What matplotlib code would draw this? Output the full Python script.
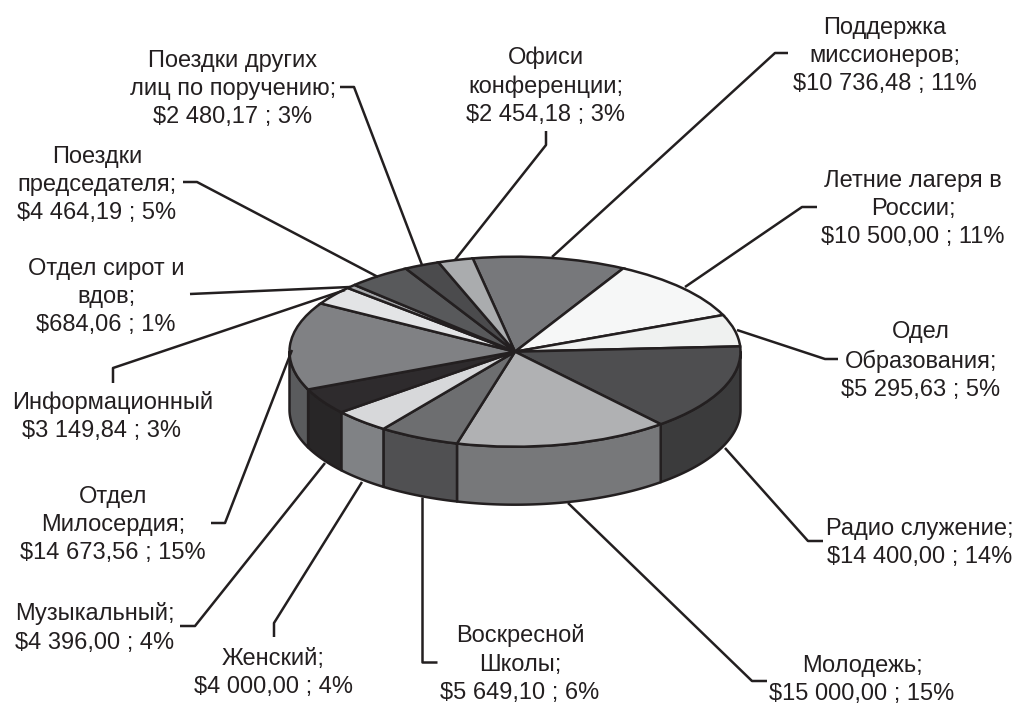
import matplotlib
matplotlib.use('Agg')
import matplotlib.pyplot as plt
import numpy as np

plt.rcParams['font.family'] = ['Liberation Sans', 'DejaVu Sans']

# slices clockwise, starting from the top
values = [10736.48, 10500.00, 5295.63, 14400.00, 15000.00, 5649.10, 4000.00,
          4396.00, 14673.56, 3149.84, 684.06, 4464.19, 2480.17, 2454.18]
top_colors = ['#77787b', '#f6f7f7', '#eff1f0', '#4e4e50', '#b0b1b3', '#6d6e70', '#d7d8da',
              '#2e2b2d', '#808184', '#e3e4e6', '#a7a9ac', '#58595b', '#4b4b4d', '#aaacae']
side_colors = ['#77787b', '#f6f7f7', '#eff1f0', '#3b3b3c', '#77787a', '#505052', '#808285',
               '#282627', '#5a5b5d', '#e3e4e6', '#a7a9ac', '#58595b', '#4b4b4d', '#aaacae']
labels = ['Поддержка\nмиссионеров;\n$10 736,48 ; 11%',
          'Летние лагеря в\nРоссии;\n$10 500,00 ; 11%',
          'Одел\nОбразования;\n$5 295,63 ; 5%',
          'Радио служение;\n$14 400,00 ; 14%',
          'Молодежь;\n$15 000,00 ; 15%',
          'Воскресной\nШколы;\n$5 649,10 ; 6%',
          'Женский;\n$4 000,00 ; 4%',
          'Музыкальный;\n$4 396,00 ; 4%',
          'Отдел\nМилосердия;\n$14 673,56 ; 15%',
          'Информационный',
          'Отдел сирот и\nвдов;\n$684,06 ; 1%',
          'Поездки\nпредседателя;\n$4 464,19 ; 5%',
          'Поездки других\nлиц по поручению;\n$2 480,17 ; 3%',
          'Офиси\nконференции;\n$2 454,18 ; 3%']

# layout in pixels of the picture
W, H = 1017, 705
cx, cy, rx, ry, depth = 515, 351.7, 225.5, 95, 58
start = -10.8
label_pos = [(885, 56), (913, 209), (921, 361), (920, 543), (862, 680), (520, 664), (273, 673),
             (95, 628), (113, 525), (113, 403), (106, 297), (97, 185), (233, 89), (546, 86)]
leaders = [[(788, 53), (775, 53), (552, 257)],
           [(817, 207), (802, 207), (685, 287)],
           [(737, 330), (825, 359), (838, 359)],
           [(725, 448), (808, 541), (823, 541)],
           [(568, 503), (752, 681), (767, 681)],
           [(422, 497), (422, 662), (437, 662)],
           [(362, 482), (274, 623), (274, 637)],
           [(325, 463), (195, 626), (180, 626)],
           [(292, 350), (225, 523), (211, 523)],
           [(345, 290), (113, 368), (113, 383)],
           [(350, 287), (190, 294)],
           [(378, 277), (197, 182), (183, 182)],
           [(422, 265), (354, 87), (340, 87)],
           [(455, 260), (546, 145), (546, 131)]]

ink = '#231f20'
line_w = 1.8
font_size = 17

fig = plt.figure(figsize=(W / 100, H / 100), dpi=100)

# pie axes: one data unit is one ellipse radius
ax = fig.add_axes([0, 0, 1, 1])
ax.pie(values, colors=top_colors, startangle=90 - start, counterclock=False, radius=1,
       wedgeprops={'edgecolor': ink, 'linewidth': line_w, 'zorder': 3})
ax.set_aspect('auto')
ax.set_xlim(-cx / rx, (W - cx) / rx)
ax.set_ylim((cy - H) / ry, cy / ry)

# side wall, only the front half (90..270 deg clockwise from the top) shows
edges = start + np.cumsum([0] + values) / sum(values) * 360
for a0, a1, col in zip(edges[:-1], edges[1:], side_colors):
    lo, hi = max(a0, 90), min(a1, 270)
    if lo >= hi:
        continue
    t = np.radians(np.linspace(lo, hi, 60))
    x = np.sin(t)
    y = np.cos(t)
    ax.fill(np.r_[x, x[::-1]], np.r_[y, y[::-1] - depth / ry], facecolor=col, edgecolor=ink,
            linewidth=line_w, joinstyle='round', zorder=2)

# labels and leader lines in pixel coordinates
ax2 = fig.add_axes([0, 0, 1, 1])
ax2.set_xlim(0, W)
ax2.set_ylim(H, 0)
ax2.axis('off')
ax2.patch.set_alpha(0)

for path in leaders:
    px, py = zip(*path)
    ax2.plot(px, py, color=ink, lw=line_w, solid_capstyle='butt', solid_joinstyle='round')

for text, (x, y) in zip(labels, label_pos):
    ax2.text(x, y, text, ha='center', va='center', fontsize=font_size, color=ink,
             linespacing=1.37, multialignment='center')
ax2.text(102, 431, '$3 149,84 ; 3%', ha='center', va='center', fontsize=font_size, color=ink)

fig.savefig('out.png', dpi=100)
